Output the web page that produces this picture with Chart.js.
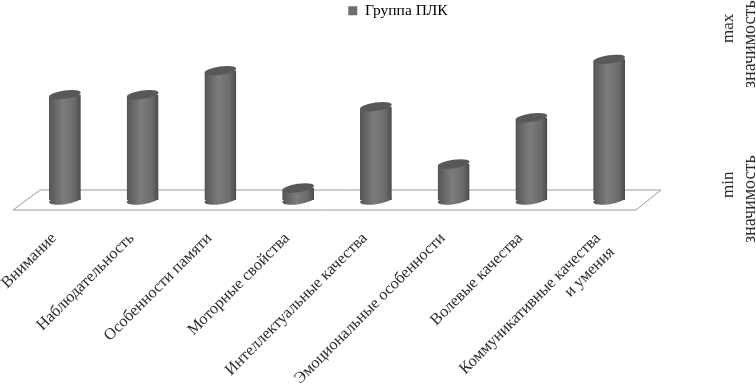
<!DOCTYPE html>
<html lang="ru">
<head>
<meta charset="utf-8">
<title>Группа ПЛК</title>
<script src="https://cdn.jsdelivr.net/npm/chart.js@4"></script>
<style>
    html, body { margin: 0; padding: 0; background: #fff; }
    canvas { display: block; }
</style>
</head>
<body>
<canvas id="qualitiesChart" width="756" height="384"></canvas>
<script>
const categories = [
    "Внимание",
    "Наблюдательность",
    "Особенности памяти",
    "Моторные свойства",
    "Интеллектуальные качества",
    "Эмоциональные особенности",
    "Волевые качества",
    ["Коммуникативные качества", "и умения"]
];
const seriesName = "Группа ПЛК";
const seriesValues = [6.14, 6.14, 7.54, 0.7, 5.44, 2.1, 4.8, 8.2];

const SERIF = "'Liberation Serif', 'DejaVu Serif', serif";
const CAP_RY = 4.2;
const CAP_TILT = -0.14;

function bodyGradient(ctx, x, halfWidth) {
    const g = ctx.createLinearGradient(x - halfWidth, 0, x + halfWidth, 0);
    g.addColorStop(0, "#555555");
    g.addColorStop(0.45, "#7c7c7c");
    g.addColorStop(0.8, "#6a6a6a");
    g.addColorStop(1, "#4a4a4a");
    return g;
}

// Floor, cylinder caps and the side captions around the ordinary bars
const cylinderPlugin = {
    id: "cylinder",
    afterLayout(chart) {
        // the legend sits right of the plot centre in the original
        chart.legend.left += 61;
        chart.legend.right += 61;
    },
    beforeDatasetsDraw(chart) {
        const ctx = chart.ctx;
        const area = chart.chartArea;
        ctx.save();
        ctx.strokeStyle = "#9a9a9a";
        ctx.lineWidth = 1;
        ctx.beginPath();
        ctx.moveTo(area.left - 13, area.bottom + 10);
        ctx.lineTo(area.left + 14, area.bottom - 10);
        ctx.lineTo(area.right + 13, area.bottom - 10);
        ctx.lineTo(area.right - 12, area.bottom + 10);
        ctx.closePath();
        ctx.stroke();
        chart.getDatasetMeta(0).data.forEach(function (bar) {
            const r = bar.width / 2;
            ctx.fillStyle = bodyGradient(ctx, bar.x, r);
            ctx.beginPath();
            ctx.ellipse(bar.x, bar.base, r, CAP_RY, CAP_TILT, 0, Math.PI * 2);
            ctx.fill();
        });
        ctx.restore();
    },
    beforeDatasetDraw(chart) {
        // cut the square bar tops along the tilt of the cap
        const ctx = chart.ctx;
        ctx.save();
        ctx.beginPath();
        chart.getDatasetMeta(0).data.forEach(function (bar) {
            const r = bar.width / 2;
            const dy = r * Math.tan(CAP_TILT);
            ctx.moveTo(bar.x - r, bar.y - dy);
            ctx.lineTo(bar.x + r, bar.y + dy);
            ctx.lineTo(bar.x + r, bar.base);
            ctx.lineTo(bar.x - r, bar.base);
            ctx.closePath();
        });
        ctx.clip();
    },
    afterDatasetDraw(chart) {
        chart.ctx.restore();
    },
    afterDatasetsDraw(chart) {
        const ctx = chart.ctx;
        ctx.save();
        chart.getDatasetMeta(0).data.forEach(function (bar) {
            ctx.fillStyle = "#585858";
            ctx.beginPath();
            ctx.ellipse(bar.x, bar.y, bar.width / 2, CAP_RY, CAP_TILT, 0, Math.PI * 2);
            ctx.fill();
        });
        ctx.restore();
    },
    afterDraw(chart) {
        const ctx = chart.ctx;
        const captions = [
            ["max", 733, 43, 17],
            ["значимость", 755, 88, 18],
            ["min", 733, 198, 17],
            ["значимость", 755, 243, 18]
        ];
        ctx.save();
        ctx.fillStyle = "#2b2b2b";
        ctx.textAlign = "left";
        ctx.textBaseline = "alphabetic";
        captions.forEach(function (c) {
            ctx.save();
            ctx.font = c[3] + "px " + SERIF;
            ctx.translate(c[1], c[2]);
            ctx.rotate(-Math.PI / 2);
            ctx.fillText(c[0], 0, 0);
            ctx.restore();
        });
        ctx.restore();
    }
};

new Chart(document.getElementById("qualitiesChart"), {
    type: "bar",
    data: {
        labels: categories,
        datasets: [{
            label: seriesName,
            data: seriesValues,
            backgroundColor: function (context) {
                const chart = context.chart;
                if (!chart.chartArea) return "#6e6e6e";
                const x = chart.scales.x.getPixelForValue(context.dataIndex);
                return bodyGradient(chart.ctx, x, 16);
            },
            borderWidth: 0,
            barPercentage: 0.41,
            categoryPercentage: 1
        }]
    },
    options: {
        responsive: false,
        animation: false,
        layout: { padding: { left: 26, right: 108, top: 0, bottom: 0 } },
        plugins: {
            legend: {
                position: "top",
                labels: {
                    boxWidth: 9,
                    boxHeight: 9,
                    padding: 3,
                    color: "#2b2b2b",
                    font: { family: SERIF, size: 15.5 },
                    generateLabels: function () {
                        return [{ text: seriesName, fillStyle: "#6e6e6e", strokeStyle: "#6e6e6e", lineWidth: 0, datasetIndex: 0 }];
                    }
                }
            },
            tooltip: { enabled: false }
        },
        scales: {
            x: {
                grid: { display: false },
                border: { display: false },
                afterFit: function (scale) {
                    scale.height = 184;
                    scale.paddingLeft = 0;
                    scale.paddingRight = 0;
                },
                ticks: {
                    autoSkip: false,
                    minRotation: 45,
                    maxRotation: 45,
                    padding: 21,
                    labelOffset: -11,
                    color: "#2b2b2b",
                    font: { family: SERIF, size: 16.3 }
                }
            },
            y: { display: false, min: 0, max: 10 }
        }
    },
    plugins: [cylinderPlugin]
});
</script>
</body>
</html>
